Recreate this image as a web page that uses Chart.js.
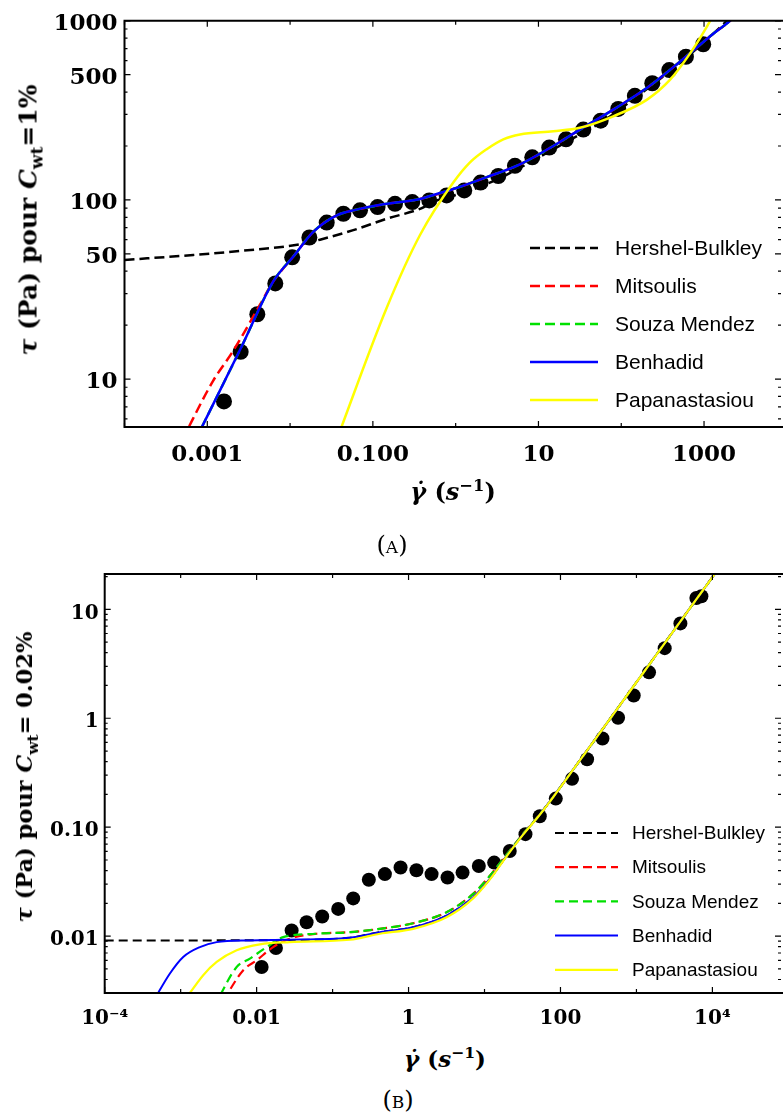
<!DOCTYPE html>
<html>
<head>
<meta charset="utf-8">
<script src="https://cdn.jsdelivr.net/npm/chart.js@4.4.1/dist/chart.umd.min.js"></script>
<style>
  body { margin: 0; width: 783px; height: 1119px; overflow: hidden; background: #fff; position: relative; font-family: "DejaVu Serif", serif; }
  canvas { position: absolute; left: 0; }
  .lbl { position: absolute; transform: translate(-50%, -50%); white-space: nowrap; color: #000; }
  .ytitle { font-weight: bold; transform: translate(-50%, -50%) rotate(-90deg); }
  .xtitle { font-weight: bold; }
  .cap { font-family: "DejaVu Serif", serif; font-size: 24px; }
  .cap span { font-variant-caps: all-small-caps; }
  sub, sup { font-size: 68%; line-height: 0; }
</style>
</head>
<body>
<canvas id="chartA" width="783" height="500" style="top:0"></canvas>
<canvas id="chartB" width="783" height="480" style="top:556px"></canvas>

<div class="lbl ytitle" style="left:28px; top:220px; font-size:25px"><i>τ</i> (Pa) pour <i>C</i><sub>wt</sub>=1%</div>
<div class="lbl xtitle" style="left:453px; top:491px; font-size:24px"><i>γ̇</i> (<i>s</i><sup>−1</sup>)</div>
<div class="lbl cap" style="left:392px; top:545px">(<span>A</span>)</div>

<div class="lbl ytitle" style="left:24px; top:777px; font-size:22.5px"><i>τ</i> (Pa) pour <i>C</i><sub>wt</sub>= 0.02%</div>
<div class="lbl xtitle" style="left:445px; top:1058px; font-size:23px"><i>γ̇</i> (<i>s</i><sup>−1</sup>)</div>
<div class="lbl cap" style="left:398px; top:1100px">(<span>B</span>)</div>

<script>
/* ===================== (A) Cwt = 1% ===================== */
const shearA = [0.00159, 0.00253, 0.00402, 0.00663, 0.0106, 0.0171, 0.0277, 0.0440, 0.0699, 0.114,
  0.185, 0.299, 0.480, 0.778, 1.27, 2.00, 3.27, 5.20, 8.42, 13.5, 21.5, 34.8, 56.4, 92, 146, 237, 380, 604, 977];
const tauA = [7.5, 14.2, 23, 34.2, 47.8, 61.7, 74.7, 83.7, 87.5, 91.2,
  95.1, 97.3, 99.4, 106, 113, 125, 136, 155, 173, 196, 218, 247, 277, 322, 381, 448, 531, 630, 740];

const hbA_x = [1e-4, 6.78e-4, 2.72e-3, 0.0132, 0.0230, 0.058, 0.147, 0.371, 0.590, 1.27, 3.27, 8.42, 21.5, 56.4, 146, 380, 1000, 2500];
const hbA_y = [46.2, 49.3, 52.1, 56.5, 60, 67.8, 78.5, 89.2, 99.3, 110, 131, 165, 210, 270, 370, 520, 760, 1130];

const mitsA_x = [5.0e-4, 1.18e-3, 2.06e-3, 4.33e-3, 6.27e-3, 0.01094, 0.01906, 0.0366, 0.0580, 0.147, 0.371, 0.936, 2.37, 5.98, 15.1, 31.7, 80, 203, 512, 1291, 2055, 3000];
const mitsA_y = [4.6, 9.8, 14.4, 26, 35.1, 48.3, 66.4, 82.1, 87.4, 95.1, 101.3, 115, 134, 158, 200, 247, 319, 421, 591, 847, 1000, 1200];

const souzaA_x = [7.08e-4, 2.53e-3, 6.27e-3, 0.01094, 0.01906, 0.0366, 0.0580, 0.147, 0.371, 0.590, 0.936, 2.37, 5.98, 15.1, 31.7, 80, 203, 512, 1291, 2055, 3000];
const souzaA_y = [4.5, 14.8, 35.1, 48.3, 66.4, 82.1, 87.4, 95.1, 101.3, 108, 115, 134, 158, 200, 247, 319, 421, 591, 847, 1000, 1200];

const benA_x = [7.08e-4, 2.53e-3, 6.27e-3, 0.01094, 0.01906, 0.0366, 0.0580, 0.147, 0.371, 0.590, 0.936, 2.37, 5.98, 15.1, 31.7, 80, 203, 512, 1291, 2055, 3000];
const benA_y = [4.5, 14.8, 35.1, 48.3, 66.4, 82.1, 87.4, 95.1, 101.3, 108, 115, 134, 158, 200, 247, 319, 421, 591, 847, 1000, 1200];

const papaA_x = [0.0355, 0.147, 0.371, 0.936, 1.49, 2.37, 3.76, 5.98, 15.1, 31.7, 80, 203, 387, 676, 1075, 1400];
const papaA_y = [4.42, 25.0, 63.7, 125, 162, 192, 218, 232, 242, 253, 293, 362, 468, 656, 923, 1150];

const xTickValsA = [0.001, 0.1, 10, 1000];
const xTickTextA = ['0.001', '0.100', '10', '1000'];
const yTickValsA = [10, 50, 100, 500, 1000];
const yTickTextA = ['10', '50', '100', '500', '1000'];

/* ===================== (B) Cwt = 0.02% ===================== */
const shearB = [0.01164, 0.01795, 0.0289, 0.0455, 0.0730, 0.1186, 0.1868, 0.300, 0.488, 0.785,
  1.27, 2.01, 3.26, 5.14, 8.42, 13.4, 21.5, 34.6, 53.4, 86.7, 142, 224, 357, 573, 921, 1465, 2355, 3790, 6150, 7160];
const tauB = [0.00521, 0.00778, 0.01128, 0.01343, 0.01513, 0.01778, 0.0222, 0.0329, 0.0371, 0.0426,
  0.0403, 0.0371, 0.0345, 0.0383, 0.0441, 0.0473, 0.0604, 0.0863, 0.126, 0.183, 0.278, 0.420, 0.652, 1.01, 1.62, 2.64, 4.40, 7.43, 12.7, 13.2];

const hbB_x = [1e-4, 1e-3, 0.0224, 0.169, 0.419, 1.15, 3.16, 7.08, 11.7, 19.5, 32.2, 53.4, 179, 817, 3715, 10190, 16900];
const hbB_y = [0.00914, 0.00914, 0.0092, 0.00967, 0.01087, 0.01208, 0.01545, 0.0227, 0.0334, 0.0544, 0.0858, 0.1305, 0.408, 1.76, 7.60, 20.1, 32.8];

const mitsB_x = [3.63e-3, 6.67e-3, 0.01, 0.01652, 0.0274, 0.0616, 0.169, 0.419, 1.15, 3.16, 7.08, 11.7, 19.5, 32.2, 53.4, 179, 817, 3715, 10190, 16900];
const mitsB_y = [0.00256, 0.00487, 0.00600, 0.00794, 0.00947, 0.01052, 0.01087, 0.01167, 0.01314, 0.01656, 0.0244, 0.0357, 0.0560, 0.0870, 0.131, 0.408, 1.76, 7.60, 20.1, 32.8];

const souzaB_x = [3.02e-3, 5.46e-3, 8.16e-3, 0.01355, 0.0224, 0.0616, 0.169, 0.419, 1.15, 3.16, 7.08, 11.7, 19.5, 32.2, 53.4, 179, 817, 3715, 10190, 16900];
const souzaB_y = [0.00255, 0.00521, 0.00622, 0.00794, 0.00979, 0.01052, 0.01087, 0.01167, 0.01314, 0.01656, 0.0244, 0.0357, 0.0560, 0.0870, 0.131, 0.408, 1.76, 7.60, 20.1, 32.8];

const benB_x = [4.47e-4, 7.22e-4, 1.08e-3, 1.79e-3, 2.98e-3, 8.16e-3, 0.0224, 0.169, 0.419, 1.15, 3.16, 7.08, 11.7, 19.5, 32.2, 53.4, 179, 817, 3715, 10190, 16900];
const benB_y = [0.0026, 0.00454, 0.00644, 0.00794, 0.00881, 0.00914, 0.00927, 0.00967, 0.01087, 0.01208, 0.01545, 0.0227, 0.0334, 0.0544, 0.0858, 0.1305, 0.408, 1.76, 7.60, 20.1, 32.8];

const papaB_x = [1.12e-3, 1.98e-3, 2.98e-3, 5.46e-3, 0.01104, 0.0274, 0.169, 0.419, 1.15, 3.16, 7.08, 11.7, 19.5, 32.2, 53.4, 179, 817, 3715, 10190, 16900];
const papaB_y = [0.00255, 0.00438, 0.00579, 0.00741, 0.00840, 0.00881, 0.00927, 0.01052, 0.01167, 0.01489, 0.0222, 0.0330, 0.0540, 0.0855, 0.130, 0.408, 1.76, 7.60, 20.1, 32.8];

const xTickValsB = [1e-4, 0.01, 1, 100, 1e4];
const xTickTextB = ['10⁻⁴', '0.01', '1', '100', '10⁴'];
const yTickValsB = [0.01, 0.1, 1, 10];
const yTickTextB = ['0.01', '0.10', '1', '10'];

const modelNames = ['Hershel-Bulkley', 'Mitsoulis', 'Souza Mendez', 'Benhadid', 'Papanastasiou'];
const modelColors = ['#000000', '#ff0000', '#00e000', '#0000ff', '#ffff00'];

Chart.defaults.font.family = '"DejaVu Serif", serif';
Chart.defaults.color = '#000';

/* ---- ticks posés à la main sur l'échelle log ---- */
function logTickList(min, max, mults) {
  const out = [];
  for (let e = Math.floor(Math.log10(min)) - 1; e <= Math.ceil(Math.log10(max)); e++) {
    mults.forEach(m => {
      const v = m * Math.pow(10, e);
      if (v >= min * 0.999 && v <= max * 1.001) out.push(v);
    });
  }
  return out;
}

function labelFor(vals, texts) {
  return v => {
    const i = vals.findIndex(t => Math.abs(v / t - 1) < 1e-6);
    return i < 0 ? '' : texts[i];
  };
}

// cadre (le bord droit sort de l'image) + graduations vers l'intérieur
const frameTicks = {
  id: 'frameTicks',
  afterDatasetsDraw(chart) {
    const { ctx, chartArea: a, scales: { x, y } } = chart;
    ctx.save();
    ctx.strokeStyle = '#000';
    ctx.lineWidth = 1.2;
    ctx.beginPath();
    x.ticks.forEach(t => {
      const px = x.getPixelForValue(t.value);
      const len = t.label ? 6 : 4;
      ctx.moveTo(px, a.bottom); ctx.lineTo(px, a.bottom - len);
      ctx.moveTo(px, a.top); ctx.lineTo(px, a.top + len);
    });
    y.ticks.forEach(t => {
      const py = y.getPixelForValue(t.value);
      const len = t.label ? 6 : 3;
      ctx.moveTo(a.left, py); ctx.lineTo(a.left + len, py);
      ctx.moveTo(a.right - 2, py); ctx.lineTo(a.right - 2 - len, py);
    });
    ctx.stroke();
    ctx.lineWidth = 2;
    ctx.beginPath();
    ctx.moveTo(a.right, a.top); ctx.lineTo(a.left, a.top);
    ctx.lineTo(a.left, a.bottom); ctx.lineTo(a.right, a.bottom);
    ctx.stroke();
    ctx.restore();
  }
};

const boxLegend = {
  id: 'boxLegend',
  afterDraw(chart, args, o) {
    const ctx = chart.ctx;
    ctx.save();
    ctx.font = o.font;
    ctx.textBaseline = 'middle';
    ctx.textAlign = 'left';
    chart.data.datasets.filter(d => d.showLine).forEach((d, i) => {
      const y = o.top + i * o.step;
      ctx.strokeStyle = d.borderColor;
      ctx.lineWidth = d.borderWidth;
      ctx.setLineDash(d.borderDash || []);
      ctx.beginPath();
      ctx.moveTo(o.left, y);
      ctx.lineTo(o.left + o.len, y);
      ctx.stroke();
      ctx.setLineDash([]);
      ctx.fillStyle = '#000';
      ctx.fillText(d.label, o.left + o.len + o.gap, y + 1);
    });
    ctx.restore();
  }
};

function curve(i, xs, ys, width, dash, dashOffset) {
  return {
    label: modelNames[i],
    data: xs.map((x, k) => ({ x: x, y: ys[k] })),
    showLine: true,
    borderColor: modelColors[i],
    backgroundColor: modelColors[i],
    borderWidth: width,
    borderDash: dash,
    borderDashOffset: dashOffset || 0,
    pointRadius: 0,
    cubicInterpolationMode: 'monotone',
    order: 5 - i
  };
}

function makeChart(id, cfg) {
  return new Chart(document.getElementById(id), {
    type: 'scatter',
    data: {
      datasets: [
        ...cfg.curves,
        {
          label: 'Mesures',
          data: cfg.px.map((x, k) => ({ x: x, y: cfg.py[k] })),
          showLine: false,
          pointRadius: cfg.radius,
          pointBackgroundColor: '#000',
          pointBorderWidth: 0,
          order: 6
        }
      ]
    },
    options: {
      responsive: false,
      animation: false,
      layout: { autoPadding: false, padding: { top: cfg.padTop, right: 0, left: 0, bottom: 0 } },
      plugins: {
        legend: { display: false },
        tooltip: { enabled: false },
        boxLegend: cfg.legend
      },
      scales: {
        x: {
          type: 'logarithmic',
          min: cfg.xMin, max: cfg.xMax,
          grid: { display: false, drawTicks: false },
          border: { display: false },
          afterBuildTicks: s => { s.ticks = logTickList(cfg.xMin, cfg.xMax, [1]).map(v => ({ value: v })); },
          afterFit: s => { s.height = cfg.xHeight; },
          ticks: {
            autoSkip: false, maxRotation: 0, padding: cfg.xPad,
            font: { size: cfg.tickSize, weight: 'bold' },
            callback: labelFor(cfg.xVals, cfg.xText)
          }
        },
        y: {
          type: 'logarithmic',
          min: cfg.yMin, max: cfg.yMax,
          grid: { display: false, drawTicks: false },
          border: { display: false },
          afterBuildTicks: s => { s.ticks = logTickList(cfg.yMin, cfg.yMax, [1, 2, 3, 4, 5, 6, 7, 8, 9]).map(v => ({ value: v })); },
          afterFit: s => { s.width = cfg.yWidth; },
          ticks: {
            autoSkip: false, padding: cfg.yPad, labelOffset: cfg.yLabelOffset,
            font: { size: cfg.tickSize, weight: 'bold' },
            callback: labelFor(cfg.yVals, cfg.yText)
          }
        }
      }
    },
    plugins: [frameTicks, boxLegend]
  });
}

makeChart('chartA', {
  curves: [
    curve(0, hbA_x, hbA_y, 2.5, [10, 5]),
    curve(1, mitsA_x, mitsA_y, 2.5, [10, 5]),
    curve(2, souzaA_x, souzaA_y, 2.5, [10, 5]),
    curve(3, benA_x, benA_y, 2.5, []),
    curve(4, papaA_x, papaA_y, 2.5, [])
  ],
  px: shearA, py: tauA, radius: 8,
  xMin: 1e-4, xMax: 8990, yMin: 5.4, yMax: 1000,
  xVals: xTickValsA, xText: xTickTextA, yVals: yTickValsA, yText: yTickTextA,
  padTop: 17, xHeight: 73, yWidth: 124.5, xPad: 14, yPad: 7, yLabelOffset: 3, tickSize: 23,
  legend: { left: 530, top: 248, step: 38, len: 68, gap: 17, font: '21px "Liberation Sans", Arial, sans-serif' }
});

makeChart('chartB', {
  curves: [
    curve(0, hbB_x, hbB_y, 2, [9, 5]),
    curve(1, mitsB_x, mitsB_y, 2.2, [9, 5]),
    curve(2, souzaB_x, souzaB_y, 2.2, [9, 5], 7),
    curve(3, benB_x, benB_y, 2, []),
    curve(4, papaB_x, papaB_y, 2.2, [])
  ],
  px: shearB, py: tauB, radius: 7,
  xMin: 1e-4, xMax: 85000, yMin: 0.003006, yMax: 21.1,
  xVals: xTickValsB, xText: xTickTextB, yVals: yTickValsB, yText: yTickTextB,
  padTop: 15, xHeight: 43, yWidth: 104.7, xPad: 14, yPad: 6, yLabelOffset: 4, tickSize: 20,
  legend: { left: 555, top: 833 - 556, step: 34.2, len: 63, gap: 14, font: '19px "Liberation Sans", Arial, sans-serif' }
});
</script>
</body>
</html>
